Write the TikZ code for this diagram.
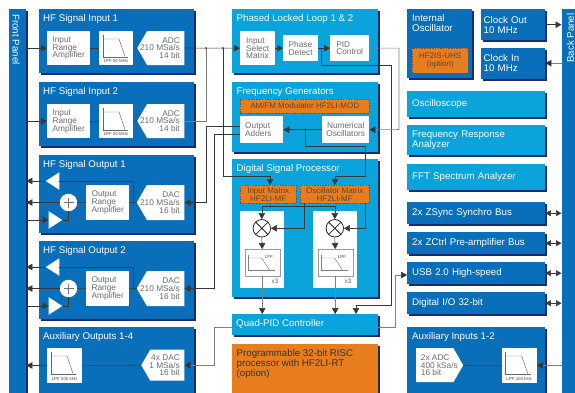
\documentclass[tikz,border=0pt]{standalone}
\usepackage{fontspec}
\setmainfont{Liberation Sans}
\usetikzlibrary{arrows.meta,shapes.geometric,shapes.symbols,shadows}
\definecolor{hfblue}{HTML}{0A6FBA}
\definecolor{skyblue}{HTML}{0BA3DC}
\definecolor{navyshade}{HTML}{1C2A6E}
\definecolor{optorange}{HTML}{E87D1E}
\definecolor{opttext}{HTML}{5A4632}
\definecolor{boxtext}{HTML}{6A6C6E}
\begin{document}
\begin{tikzpicture}[
  x=1pt, y=-1pt,
  shade2/.style={drop shadow={shadow xshift=2pt, shadow yshift=-2pt, fill=navyshade, opacity=1}},
  block/.style={anchor=north west, inner sep=0pt, fill=hfblue, text=white, shade2, align=left,
    font=\fontsize{9.7}{10}\selectfont},
  light/.style={block, fill=skyblue},
  title/.style={anchor=west, inner sep=0pt, text=white, font=\fontsize{9.7}{10}\selectfont, align=left},
  whitebox/.style={anchor=north west, inner sep=0pt, fill=white, text=boxtext, align=left,
    font=\fontsize{8.3}{7.8}\selectfont},
  optionbox/.style={anchor=north west, inner sep=0pt, fill=optorange, draw=black!65, dashed,
    dash pattern=on 1.5pt off 1.2pt, text=opttext, align=center, font=\fontsize{8}{8.2}\selectfont},
  converter/.style={signal, signal to=west, signal pointer angle=120, anchor=east, fill=white,
    inner sep=0pt},
  convtext/.style={anchor=east, inner sep=0pt, text=boxtext, align=right, font=\fontsize{8.3}{7.8}\selectfont},
  wedge/.style={isosceles triangle, isosceles triangle stretches, fill=white, inner sep=0pt,
    minimum width=17.5pt, minimum height=13.5pt},
  sum/.style={circle, fill=white, inner sep=0pt, minimum size=17.5pt,
    path picture={\draw[black!55,line width=.5pt] (path picture bounding box.center) +(-5,0) -- +(5,0)
      (path picture bounding box.center) +(0,-5) -- +(0,5);}},
  mixer/.style={circle, fill=white, draw=black!85, line width=.8pt, inner sep=0pt, minimum size=17.5pt,
    path picture={\draw[black!85,line width=.8pt] (path picture bounding box.north west) -- (path picture bounding box.south east)
      (path picture bounding box.north east) -- (path picture bounding box.south west);}},
  wire/.style={draw=black!78, line width=.55pt},
  paleWire/.style={draw=black!50, line width=.55pt},
  conn/.style={wire, -{Triangle[length=6pt,width=6.5pt]}},
  paleConn/.style={paleWire, -{Triangle[length=6pt,width=6.5pt,color=black!80]}},
  both/.style={wire, {Triangle[length=5.5pt,width=6pt]}-{Triangle[length=5.5pt,width=6pt]}},
  tapdot/.style={circle, fill=black!85, inner sep=0pt, minimum size=1.7pt},
  lpftag/.style={inner sep=0pt, text=black!70, font=\fontsize{4.4}{5}\selectfont},
  lpfcurve/.pic={
    \draw[black!60, line width=.45pt] (4,4) -- (4,26) -- (29,26);
    \draw[black!60, line width=.45pt] (4,8) -- (20,8) -- (26,25.5);
  },
  lpfsmall/.pic={
    \draw[black!50, line width=.45pt] (3.3,6) -- (3.3,21) -- (30,21);
    \draw[black!50, line width=.45pt] (3.3,9) -- (17,9) -- (25,21);
  }
]
\clip (0,0) rectangle (575,392);
\fill[white] (0,0) rectangle (575,392);
% panels
\node[block, minimum width=17.5pt, minimum height=390pt, shade2/.style={}] (frontpanel) at (8.5,9) {};
\node[title, rotate=-90, anchor=center] (frontlabel) at (16,39.5) {Front Panel};
\node[block, minimum width=20pt, minimum height=390pt, shade2/.style={}] (backpanel) at (561.5,9) {};
\node[title, rotate=90, anchor=center] (backlabel) at (570.5,38) {Back Panel};
% HF inputs
\foreach \i/\y in {1/9, 2/82} {
  \node[block, minimum width=155pt, minimum height=64pt] (in\i) at (39,\y) {};
  \node[title] (in\i title) at (43,\y+10) {HF Signal Input \i};
  \node[whitebox, minimum width=43pt, minimum height=34pt] (in\i amp) at (47,\y+22) {Input\\Range\\Amplifier};
  \node[whitebox, minimum width=34pt, minimum height=34pt] (in\i lpf) at (99,\y+22) {};
  \pic at (in\i lpf.north west) {lpfcurve};
  \node[lpftag] (in\i tag) at (116,\y+52) {LPF 50 MHz};
  \node[converter, minimum width=47pt, minimum height=34pt] (in\i adc) at (184.5,\y+39) {};
  \node[convtext] (in\i adctext) at (180,\y+39) {ADC\\210 MSa/s\\14 bit};
  \draw[conn] (frontpanel.east |- in\i amp.west) -- (in\i amp.west);
  \draw[wire] (in\i amp.east) -- (in\i lpf.west);
  \draw[wire] (in\i lpf.east) -- (in\i adc.west);
}
% HF outputs
\foreach \i/\y in {1/155, 2/241} {
  \node[block, minimum width=155pt, minimum height=77.5pt] (out\i) at (39,\y) {};
  \node[title] (out\i title) at (43,\y+10) {HF Signal Output \i};
  \node[whitebox, minimum width=43pt, minimum height=35pt] (out\i amp) at (86,\y+30) {Output\\Range\\Amplifier};
  \node[converter, minimum width=47.5pt, minimum height=35pt] (out\i dac) at (184.5,\y+47.5) {};
  \node[convtext] (out\i dactext) at (180,\y+47.5) {DAC\\210 MSa/s\\16 bit};
  \node[sum] (out\i sum) at (68.5,\y+47.5) {};
  \node[wedge, shape border rotate=180] (out\i buf) at (54.5,\y+26) {};
  \node[wedge] (out\i drv) at (53.5,\y+65) {};
  \draw[wire] (out\i dac.west) -- (out\i amp.east);
  \draw[wire] (out\i amp.west) -- (out\i sum.east);
  \coordinate (out\i tap) at (133.5,\y+47.5);
  \draw[wire] (out\i tap) |- (out\i buf.east);
  \draw[conn] (out\i buf.west) -- (frontpanel.east |- out\i buf.west);
  \draw[conn] (out\i sum.west) -- (frontpanel.east |- out\i sum.west);
  \draw[conn] (frontpanel.east |- out\i drv.west) -- (out\i drv.west);
  \draw[wire] (out\i drv.east) -| (out\i sum.south);
}
% auxiliary outputs
\node[block, minimum width=155pt, minimum height=70pt] (auxout) at (39,327) {};
\node[title] (auxouttitle) at (43,336.5) {Auxiliary Outputs 1-4};
\node[whitebox, minimum width=35pt, minimum height=34.5pt] (auxoutlpf) at (47,348) {};
\pic at (auxoutlpf.north west) {lpfcurve};
\node[lpftag] (auxouttag) at (64.5,378.5) {LPF 200 kHz};
\node[converter, minimum width=43pt, minimum height=31pt] (auxoutdac) at (184.5,365.2) {};
\node[convtext] (auxoutdactext) at (180,365.2) {4x DAC\\1 MSa/s\\16 bit};
\draw[wire] (auxoutdac.west) -- (auxoutlpf.east);
\draw[conn] (auxoutlpf.west) -- (frontpanel.east |- auxoutlpf.west);
% phase locked loop
\node[light, minimum width=146pt, minimum height=64pt] (pll) at (232,9) {};
\node[title] (plltitle) at (236.5,19) {Phased Locked Loop 1 \& 2};
\node[whitebox, minimum width=35pt, minimum height=34pt] (pllsel) at (240,31) {Input\\Select\\Matrix};
\node[whitebox, minimum width=35pt, minimum height=26pt] (pllphase) at (283,35) {Phase\\Detect};
\node[whitebox, minimum width=39pt, minimum height=26pt] (pllpid) at (330,35) {PID\\Control};
% frequency generators
\node[light, minimum width=146pt, minimum height=70pt] (fgen) at (232,82) {};
\node[title] (fgentitle) at (236.5,92) {Frequency Generators};
\node[optionbox, minimum width=129pt, minimum height=13.5pt] (fgenmod) at (240,99) {AM/FM Modulator HF2LI-MOD};
\node[whitebox, text width=33pt, inner xsep=5pt, minimum height=27pt] (fgenadd) at (240,116) {Output\\Adders};
\node[whitebox, minimum width=47pt, minimum height=27pt, align=center] (fgenosc) at (322,116) {Numerical\\Oscillators};
% digital signal processor
\node[light, minimum width=146pt, minimum height=138pt] (dsp) at (232,159) {};
\node[title] (dsptitle) at (236.5,169) {Digital Signal Processor};
\node[optionbox, minimum width=56pt, minimum height=18pt] (dspin) at (240,185) {Input Matrix\\HF2LI-MF};
\node[optionbox, minimum width=69pt, minimum height=18pt] (dspoc) at (300,185) {Oscillator Matrix\\HF2LI-MF};
\foreach \i/\x in {1/240, 2/313} {
  \node[whitebox, minimum width=43.5pt, minimum height=77pt] (dsppanel\i) at (\x,211) {};
  \node[mixer] (mix\i) at (\x+21.8,228.3) {};
  \node[whitebox, draw=black!40, line width=.5pt, minimum width=35pt, minimum height=26.5pt] (lpf\i) at (\x+4.5,249) {};
  \pic at (lpf\i.north west) {lpfsmall};
  \node[lpftag] (lpf\i tag) at (\x+29,256.5) {LPF};
  \node[inner sep=0pt, text=boxtext, font=\fontsize{6.5}{7}\selectfont] (count\i) at (\x+35,281.5) {x3};
  \draw[conn] (mix\i.south) -- (lpf\i.north);
}
% quad PID and processor
\node[light, minimum width=146pt, minimum height=21pt] (qpid) at (232,314) {};
\node[title] (qpidtitle) at (236,323.5) {Quad-PID Controller};
\node[block, fill=optorange, text=black!80, minimum width=146pt, minimum height=60pt] (risc) at (232,344) {};
\node[title, text=black!80, anchor=north west] (risctitle) at (236.5,349.5) {Programmable 32-bit RISC\\processor with HF2LI-RT\\(option)};
% right column
\node[block, minimum width=65pt, minimum height=69pt] (intosc) at (407,9) {};
\node[title, anchor=north west] (intosctitle) at (412,14) {Internal\\Oscillator};
\node[optionbox, minimum width=56pt, minimum height=25.5pt] (uhs) at (412,47.5) {HF2IS-UHS\\(option)};
\node[block, text width=59pt, inner xsep=2.5pt, minimum height=31pt] (clkout) at (481,9) {Clock Out\\10 MHz};
\node[block, text width=59pt, inner xsep=2.5pt, minimum height=31pt] (clkin) at (481,47.5) {Clock In\\10 MHz};
\node[light, text width=128pt, inner xsep=5pt, minimum height=26pt] (oscilloscope) at (407,90.5) {Oscilloscope};
\node[light, text width=128pt, inner xsep=5pt, minimum height=30pt] (fra) at (407,125) {Frequency Response\\Analyzer};
\node[light, text width=128pt, inner xsep=5pt, minimum height=26pt] (fft) at (407,164) {FFT Spectrum Analyzer};
\foreach \name/\y/\txt in {zsync/202/2x ZSync Synchro Bus, zctrl/232/2x ZCtrl Pre-amplifier Bus, usb/262/USB 2.0 High-speed, dio/292/{Digital I/O 32-bit}} {
  \node[block, text width=128pt, inner xsep=5pt, minimum height=22pt] (\name) at (407,\y) {\txt};
  \draw[both] (\name.east) -- (backpanel.west |- \name.east);
}
\node[block, minimum width=138pt, minimum height=70pt] (auxin) at (407,327) {};
\node[title] (auxintitle) at (412,336.5) {Auxiliary Inputs 1-2};
\node[converter, signal to=east, anchor=west, minimum width=47pt, minimum height=34pt] (auxinadc) at (416,365.2) {};
\node[convtext, anchor=west, align=left] (auxinadctext) at (420.7,365.2) {2x ADC\\400 kSa/s\\16 bit};
\node[whitebox, minimum width=35pt, minimum height=34.5pt] (auxinlpf) at (501.7,348) {};
\pic at (auxinlpf.north west) {lpfcurve};
\node[lpftag] (auxintag) at (519.2,378.5) {LPF 100 kHz};
% connections
\draw[conn] (clkout.east) -- (backpanel.west |- clkout.east);
\draw[paleConn] (backpanel.west |- clkin.east) -- (clkin.east);
\draw[paleConn] (backpanel.west |- auxinlpf.east) -- (auxinlpf.east);
\draw[wire] (auxinadc.east) -- (auxinlpf.west);
\coordinate (tapa) at (206,48);
\coordinate (tapb) at (223,48);
\draw[conn] (in1adc.east) -- (pllsel.west);
\draw[paleWire] (in2adc.east) -| (tapa);
\node[tapdot] (dota) at (tapa) {};
\node[tapdot] (dotb) at (tapb) {};
\coordinate (inbus) at (270,176);
\draw[conn] (tapb) |- (inbus) -- (inbus |- dspin.north);
\coordinate (dacbusa) at (206,202.5);
\coordinate (dacbusb) at (214,288.5);
\coordinate (dacbusc) at (214,365.2);
\draw[conn] ([yshift=3.5pt]fgenadd.west) -| (dacbusa) -- (out1dac.east);
\draw[conn] ([yshift=-4.5pt]fgenadd.west) -| (dacbusb) -- (out2dac.east);
\draw[paleConn] ([yshift=-2.5pt]qpid.west) -| (dacbusc) -- (auxoutdac.east);
\draw[conn] (pllsel.east |- pllphase.west) -- (pllphase.west);
\draw[conn] (pllphase.east) -- (pllpid.west);
\coordinate (tapc) at (321,48);
\coordinate (pidbusa) at (391,65);
\coordinate (pidbusb) at (356,305);
\draw[wire] (tapc) |- (pidbusa) |- (pidbusb);
\draw[conn] (pidbusb) -- (pidbusb |- qpid.north);
\coordinate (oscbus) at (399,129.5);
\draw[paleConn] (pllpid.east) -| (oscbus) -- (fgenosc.east);
\draw[conn] (fgenosc.west) -- (fgenadd.east);
\coordinate (tapd) at (305,129.5);
\node[tapdot] (dotd) at (tapd) {};
\coordinate (oscbusa) at (365,146);
\coordinate (oscbusb) at (335,176);
\draw[conn] (tapd) |- (oscbusa) |- (oscbusb) -- (oscbusb |- dspoc.north);
\coordinate (mixbus) at (270,206.7);
\draw[wire] ([xshift=2pt]dspin.south) -- (mixbus);
\node[tapdot] (dote) at (mixbus) {};
\draw[conn] (mixbus) -| (mix1.north);
\draw[conn] (mixbus) -| (mix2.north);
\draw[conn] ([xshift=-30.5pt]dspoc.south) |- (mix1.east);
\draw[conn] ([xshift=30.5pt]dspoc.south) |- (mix2.east);
\draw[paleConn] (lpf1.south) -- (lpf1.south |- qpid.north);
\draw[paleConn] (lpf2.south) -- (lpf2.south |- qpid.north);
\coordinate (usbbus) at (395,275);
\draw[paleConn] ([yshift=-2.5pt]qpid.east) -| (usbbus) -- (usb.west |- usbbus);
\end{tikzpicture}
\end{document}
